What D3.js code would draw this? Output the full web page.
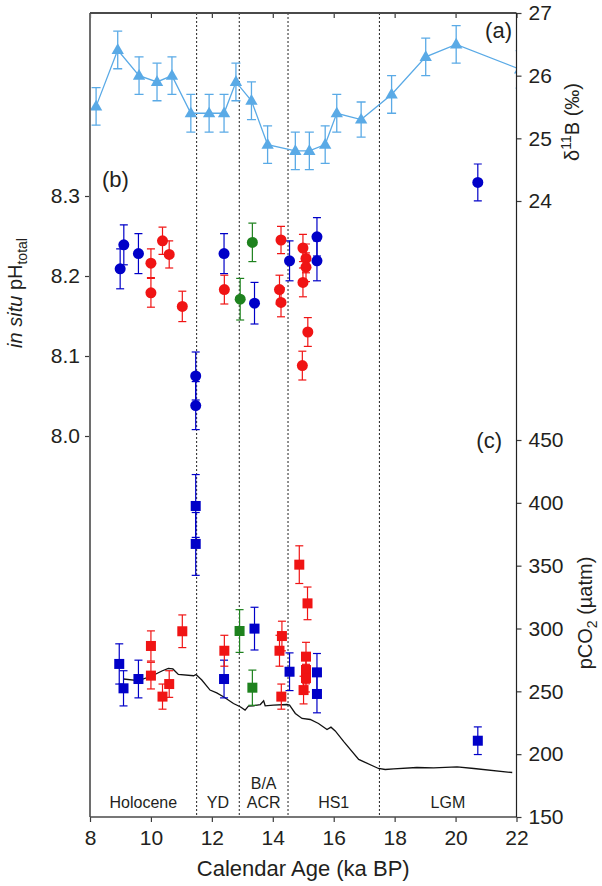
<!DOCTYPE html>
<html><head><meta charset="utf-8">
<script src="https://cdn.jsdelivr.net/npm/d3@7"></script>
<style>
html,body{margin:0;padding:0;background:#fff;}
svg text{font-family:"Liberation Sans",Arial,Helvetica,sans-serif;fill:#231f20;}
</style></head>
<body><svg id="chart" width="602" height="886"></svg>
<script>
// ---------- data ----------
const xTicks = [8, 10, 12, 14, 16, 18, 20, 22];
const phTicks = [8.0, 8.1, 8.2, 8.3];
const d11BTicks = [24, 25, 26, 27];
const pco2Ticks = [150, 200, 250, 300, 350, 400, 450];
const boundaries = [11.5, 12.9, 14.5, 17.5];
const regionNames = ["Holocene", "YD", "B/A", "ACR", "HS1", "LGM"];
const regionAges = [9.75, 12.2, 13.7, 13.7, 16.0, 19.75];
const regionLine = [1, 1, 0, 1, 1, 1];

// (a) boron isotopes
const d11BAge = [8.2, 8.91, 9.61, 10.2, 10.69, 11.31, 11.91, 12.40, 12.79, 13.3, 13.83, 14.74, 15.2, 15.72, 16.1, 16.9, 17.9, 19.02, 20.02, 22.12];
const d11BVal = [25.51, 26.41, 26.0, 25.9, 26.0, 25.4, 25.4, 25.4, 25.9, 25.6, 24.9, 24.8, 24.8, 24.9, 25.4, 25.3, 25.7, 26.3, 26.5, 26.1];
const d11BErr = [0.3, 0.3, 0.3, 0.3, 0.3, 0.3, 0.3, 0.3, 0.3, 0.3, 0.3, 0.3, 0.3, 0.3, 0.3, 0.28, 0.3, 0.3, 0.3, 0.3];

// (b) in situ pH
const phBlueAge = [8.99, 9.11, 9.59, 11.47, 11.47, 12.40, 13.40, 14.55, 15.45, 15.45, 20.73];
const phBlueVal = [8.209, 8.239, 8.228, 8.075, 8.038, 8.228, 8.166, 8.219, 8.249, 8.219, 8.317];
const phBlueErr = [0.025, 0.025, 0.025, 0.03, 0.03, 0.025, 0.026, 0.025, 0.024, 0.025, 0.023];
const phRedAge = [10.0, 10.0, 10.38, 10.6, 11.03, 12.41, 14.22, 14.27, 14.27, 14.99, 15.09, 15.09, 14.99, 15.15, 14.97];
const phRedVal = [8.216, 8.179, 8.244, 8.227, 8.162, 8.183, 8.183, 8.167, 8.245, 8.235, 8.222, 8.211, 8.192, 8.130, 8.088];
const phRedErr = [0.018, 0.018, 0.017, 0.017, 0.019, 0.018, 0.018, 0.018, 0.017, 0.017, 0.018, 0.018, 0.018, 0.018, 0.018];
const phGreenAge = [12.93, 13.33];
const phGreenVal = [8.171, 8.242];
const phGreenErr = [0.026, 0.024];

// (c) pCO2
const co2BlueAge = [8.96, 9.1, 9.59, 11.47, 11.47, 12.40, 13.40, 14.55, 15.45, 15.45, 20.73];
const co2BlueVal = [271.8, 252.4, 259.8, 397.5, 367.3, 259.8, 299.9, 265.6, 265.1, 247.9, 210.7];
const co2BlueErr = [16, 14, 15, 25, 25, 15, 17, 15, 15, 15, 11];
const co2RedAge = [10.0, 10.0, 10.38, 10.6, 11.03, 12.41, 14.22, 14.30, 14.28, 14.87, 15.14, 15.09, 15.09, 15.09, 15.01];
const co2RedVal = [286.1, 262.5, 245.8, 255.8, 297.8, 282.3, 282.3, 294.0, 245.8, 350.8, 320.0, 277.6, 267.0, 260.5, 251.0];
const co2RedErr = [12, 10.6, 10, 10.6, 13, 12.3, 12.3, 11.8, 10, 15, 13, 11.4, 11, 11, 11];
const co2GreenAge = [12.91, 13.33];
const co2GreenVal = [298.0, 252.9];
const co2GreenErr = [17, 14];

// atmospheric CO2 (black line)
const atmAge = [9.1, 9.59, 10.03, 10.36, 10.57, 10.72, 10.90, 11.4, 11.48, 11.67, 11.94, 12.16, 12.38, 12.71, 12.93, 13.09, 13.2, 13.37, 13.59, 13.7, 13.75, 14.02, 14.46, 14.55, 14.74, 14.96, 15.23, 15.5, 15.78, 15.91, 16.05, 16.33, 16.82, 17.47, 17.69, 17.97, 18.73, 19.28, 20.05, 20.6, 21.86];
const atmVal = [259.8, 258.5, 262.2, 266.2, 268.3, 267.8, 263.4, 262.4, 263.4, 259, 251, 248.8, 245.7, 240.3, 237.7, 235.1, 238.2, 238.5, 239.5, 242.4, 238.5, 239, 239.5, 239, 232.4, 228.4, 227.6, 224.4, 219.6, 221.5, 218.5, 210, 195.8, 188.6, 187.8, 188.3, 189.4, 189.1, 189.9, 188.6, 185.4];

// ---------- layout ----------
const L = 90, R = 516.5, T = 13, B = 817;
const cLight = "#5aaae6", cBlue = "#0000c8", cRed = "#f01414", cGreen = "#1e821e";

const svg = d3.select("#chart");
const x = d3.scaleLinear().domain([8, 22]).range([L, R]);
const yB = d3.scaleLinear().domain([24, 27]).range([201, T]);
const yPH = d3.scaleLinear().domain([8.0, 8.3]).range([436, 196]);
const yC = d3.scaleLinear().domain([150, 450]).range([B, 440]);

svg.append("defs").append("clipPath").attr("id", "clip")
  .append("rect").attr("x", L).attr("y", T).attr("width", R - L).attr("height", B - T);

const plot = svg.append("g").attr("clip-path", "url(#clip)");

// boundaries
plot.selectAll("line.bd").data(boundaries).join("line")
  .attr("x1", d => x(d)).attr("x2", d => x(d)).attr("y1", T).attr("y2", B)
  .attr("stroke", "#222").attr("stroke-width", 1).attr("stroke-dasharray", "2,2");

// region labels
svg.selectAll("text.reg").data(regionNames).join("text")
  .attr("x", (d, i) => x(regionAges[i]))
  .attr("y", (d, i) => regionLine[i] ? 808 : 788.5)
  .attr("text-anchor", "middle").attr("font-size", 16).text(d => d);

// atmospheric line
plot.append("path")
  .datum(atmAge.map((a, i) => [a, atmVal[i]]))
  .attr("fill", "none").attr("stroke", "#111").attr("stroke-width", 1.3)
  .attr("d", d3.line().x(d => x(d[0])).y(d => yC(d[1])));

function errBars(g, ages, vals, errs, ys, color, cap, sw) {
  const data = ages.map((a, i) => ({a, v: vals[i], e: errs[i]}));
  const eg = g.append("g").attr("stroke", color).attr("stroke-width", sw || 1.2).attr("fill", "none");
  data.forEach(d => {
    const cx = x(d.a), y1 = ys(d.v + d.e), y2 = ys(d.v - d.e);
    eg.append("line").attr("x1", cx).attr("x2", cx).attr("y1", y1).attr("y2", y2);
    eg.append("line").attr("x1", cx - cap).attr("x2", cx + cap).attr("y1", y1).attr("y2", y1);
    eg.append("line").attr("x1", cx - cap).attr("x2", cx + cap).attr("y1", y2).attr("y2", y2);
  });
  return data;
}

// (a) d11B
plot.append("path")
  .datum(d11BAge.map((a, i) => [a, d11BVal[i]]))
  .attr("fill", "none").attr("stroke", cLight).attr("stroke-width", 1.3)
  .attr("d", d3.line().x(d => x(d[0])).y(d => yB(d[1])));
const dB = errBars(plot, d11BAge, d11BVal, d11BErr, yB, cLight, 4.5, 1.3);
const tri = d3.symbol().type(d3.symbolTriangle).size(66);
plot.selectAll("path.tri").data(dB).join("path")
  .attr("transform", d => `translate(${x(d.a)},${yB(d.v) + 0.5})`)
  .attr("d", tri).attr("fill", cLight);

// (b) pH and (c) pCO2 markers
function circles(ages, vals, errs, color) {
  const d = errBars(plot, ages, vals, errs, yPH, color, 4, 1.2);
  plot.append("g").selectAll("circle").data(d).join("circle")
    .attr("cx", e => x(e.a)).attr("cy", e => yPH(e.v)).attr("r", 5.5).attr("fill", color);
}
function squares(ages, vals, errs, color) {
  const d = errBars(plot, ages, vals, errs, yC, color, 4, 1.2);
  const s = 10;
  plot.append("g").selectAll("rect").data(d).join("rect")
    .attr("x", e => x(e.a) - s / 2).attr("y", e => yC(e.v) - s / 2)
    .attr("width", s).attr("height", s).attr("fill", color);
}
circles(phBlueAge, phBlueVal, phBlueErr, cBlue);
circles(phRedAge, phRedVal, phRedErr, cRed);
circles(phGreenAge, phGreenVal, phGreenErr, cGreen);
squares(co2BlueAge, co2BlueVal, co2BlueErr, cBlue);
squares(co2RedAge, co2RedVal, co2RedErr, cRed);
squares(co2GreenAge, co2GreenVal, co2GreenErr, cGreen);

// ---------- axes ----------
const axColor = "#3a3a3a";
function styleAxis(g, fs) {
  g.select(".domain").remove();
  g.selectAll(".tick line").attr("stroke", axColor).attr("stroke-width", 1.2);
  g.selectAll(".tick text").attr("font-size", fs).attr("fill", "#231f20")
    .attr("font-family", '"Liberation Sans",Arial,sans-serif');
}
const gx = svg.append("g").attr("transform", `translate(0,${B})`)
  .call(d3.axisBottom(x).tickValues(xTicks).tickFormat(d3.format("d")).tickSizeOuter(0).tickSizeInner(5).tickPadding(8));
styleAxis(gx, 21);
const gxt = svg.append("g").attr("transform", `translate(0,${T})`)
  .call(d3.axisBottom(x).tickValues(xTicks).tickFormat("").tickSizeOuter(0).tickSizeInner(5));
styleAxis(gxt, 21);
const gl = svg.append("g").attr("transform", `translate(${L},0)`)
  .call(d3.axisLeft(yPH).tickValues(phTicks).tickFormat(d3.format(".1f")).tickSizeOuter(0).tickSizeInner(5).tickPadding(5));
styleAxis(gl, 21);
const gr1 = svg.append("g").attr("transform", `translate(${R},0)`)
  .call(d3.axisRight(yB).tickValues(d11BTicks).tickFormat(d3.format("d")).tickSizeOuter(0).tickSizeInner(5).tickPadding(7));
styleAxis(gr1, 21);
const gr2 = svg.append("g").attr("transform", `translate(${R},0)`)
  .call(d3.axisRight(yC).tickValues(pco2Ticks).tickFormat(d3.format("d")).tickSizeOuter(0).tickSizeInner(5).tickPadding(7));
styleAxis(gr2, 21);

// frame
svg.append("line").attr("x1", L).attr("x2", L).attr("y1", T).attr("y2", B).attr("stroke", "#6e6e6e").attr("stroke-width", 2);
svg.append("line").attr("x1", L).attr("x2", R).attr("y1", T).attr("y2", T).attr("stroke", "#4a4a4a").attr("stroke-width", 1.8);
svg.append("line").attr("x1", L).attr("x2", R).attr("y1", B).attr("y2", B).attr("stroke", "#4a4a4a").attr("stroke-width", 1.6);
svg.append("line").attr("x1", R).attr("x2", R).attr("y1", T).attr("y2", B).attr("stroke", "#222").attr("stroke-width", 1.2);

// axis titles
svg.append("text").attr("x", (L + R) / 2).attr("y", 876).attr("text-anchor", "middle")
  .attr("font-size", 22).text("Calendar Age (ka BP)");

const tl = svg.append("text").attr("transform", "translate(22,293) rotate(-90)")
  .attr("text-anchor", "middle").attr("font-size", 20);
tl.append("tspan").attr("font-style", "italic").text("in situ");
tl.append("tspan").text(" pH");
tl.append("tspan").attr("font-size", 14).attr("dy", 5).text("total");

const tb = svg.append("text").attr("transform", "translate(579,122) rotate(-90)")
  .attr("text-anchor", "middle").attr("font-size", 20);
tb.append("tspan").text("δ");
tb.append("tspan").attr("font-size", 14).attr("dy", -8).text("11");
tb.append("tspan").attr("dy", 8).text("B (‰)");

const tc = svg.append("text").attr("transform", "translate(592,613) rotate(-90)")
  .attr("text-anchor", "middle").attr("font-size", 20);
tc.append("tspan").text("pCO");
tc.append("tspan").attr("font-size", 14).attr("dy", 5).text("2");
tc.append("tspan").attr("dy", -5).text(" (µatm)");

// panel labels
svg.append("text").attr("x", 512).attr("y", 38).attr("text-anchor", "end").attr("font-size", 22).text("(a)");
svg.append("text").attr("x", 102).attr("y", 187).attr("font-size", 22).text("(b)");
svg.append("text").attr("x", 502).attr("y", 448).attr("text-anchor", "end").attr("font-size", 22).text("(c)");
</script>
</body></html>
